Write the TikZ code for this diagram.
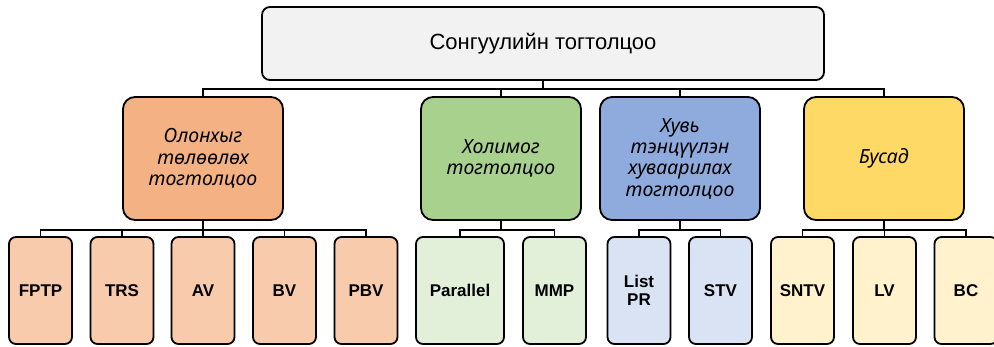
\documentclass[tikz,border=0pt]{standalone}
\usepackage{fontspec}
\setmainfont{Liberation Sans}
\newfontfamily\groupfont{Noto Sans}
\definecolor{topgray}{HTML}{F2F2F2}
\definecolor{orangemid}{HTML}{F4B183}
\definecolor{orangelow}{HTML}{F8CBAD}
\definecolor{greenmid}{HTML}{A9D18E}
\definecolor{greenlow}{HTML}{E2F0D9}
\definecolor{bluemid}{HTML}{8FAADC}
\definecolor{bluelow}{HTML}{DAE3F3}
\definecolor{yellowmid}{HTML}{FFD966}
\definecolor{yellowlow}{HTML}{FFF2CC}
\tikzset{
    box/.style={draw=black,line width=1.8pt,align=center,inner sep=0pt},
    topbox/.style={box,fill=topgray,rounded corners=8pt,minimum width=562pt,minimum height=73pt,font=\fontsize{22}{26}\selectfont},
    groupbox/.style={box,rounded corners=12pt,minimum width=160pt,minimum height=123pt,font=\groupfont\fontsize{19.5}{21.3}\selectfont\itshape},
    leafbox/.style={box,rounded corners=7pt,minimum width=63pt,minimum height=107pt,font=\fontsize{17}{18}\selectfont\bfseries},
    link/.style={draw=black,line width=1.8pt}
}

\begin{document}
\begin{tikzpicture}[x=1pt,y=-1pt]
                \useasboundingbox (0,0) rectangle (994,346);
                \node [topbox] (sys) at (543,43.5) {Сонгуулийн тогтолцоо};
                \node [groupbox,fill=orangemid] (olon) at (203,158.5) {Олонхыг\\төлөөлөх\\тогтолцоо};
                \node [groupbox,fill=greenmid] (holi) at (501,158.5) {Холимог\\тогтолцоо};
                \node [groupbox,fill=bluemid] (huv) at (680,158.5) {Хувь\\тэнцүүлэн\\хуваарилах\\тогтолцоо};
                \node [groupbox,fill=yellowmid] (busad) at (884,158.5) {Бусад};
                \node [leafbox,fill=orangelow] (fptp) at (40.5,290.5) {FPTP};
                \node [leafbox,fill=orangelow] (trs) at (122,290.5) {TRS};
                \node [leafbox,fill=orangelow] (av) at (203,290.5) {AV};
                \node [leafbox,fill=orangelow] (bv) at (284.5,290.5) {BV};
                \node [leafbox,fill=orangelow] (pbv) at (366,290.5) {PBV};
                \node [leafbox,fill=greenlow,minimum width=88pt] (parallel) at (460,290.5) {Parallel};
                \node [leafbox,fill=greenlow] (mmp) at (554.5,290.5) {MMP};
                \node [leafbox,fill=bluelow] (listpr) at (639,290.5) {List\\PR};
                \node [leafbox,fill=bluelow] (stv) at (720.5,290.5) {STV};
                \node [leafbox,fill=yellowlow] (sntv) at (802.5,290.5) {SNTV};
                \node [leafbox,fill=yellowlow] (lv) at (884.5,290.5) {LV};
                \node [leafbox,fill=yellowlow] (bc) at (966,290.5) {BC};
                \draw [link] (sys.south) -- ++(0,8) -| (olon.north);
                \draw [link] (sys.south) -- ++(0,8) -| (holi.north);
                \draw [link] (sys.south) -- ++(0,8) -| (huv.north);
                \draw [link] (sys.south) -- ++(0,8) -| (busad.north);
                \draw [link] (olon.south) -- ++(0,9) -| (fptp.north);
                \draw [link] (olon.south) -- ++(0,9) -| (trs.north);
                \draw [link] (olon.south) -- ++(0,9) -| (av.north);
                \draw [link] (olon.south) -- ++(0,9) -| (bv.north);
                \draw [link] (olon.south) -- ++(0,9) -| (pbv.north);
                \draw [link] (holi.south) -- ++(0,9) -| (parallel.north);
                \draw [link] (holi.south) -- ++(0,9) -| (mmp.north);
                \draw [link] (huv.south) -- ++(0,9) -| (listpr.north);
                \draw [link] (huv.south) -- ++(0,9) -| (stv.north);
                \draw [link] (busad.south) -- ++(0,9) -| (sntv.north);
                \draw [link] (busad.south) -- ++(0,9) -| (lv.north);
                \draw [link] (busad.south) -- ++(0,9) -| (bc.north);
            \end{tikzpicture}
\end{document}
